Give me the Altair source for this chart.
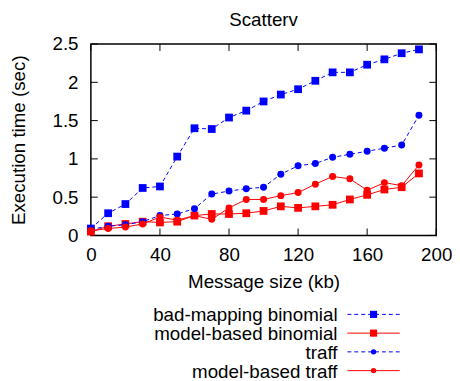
import altair as alt
import pandas as pd

# ---------------- data ----------------
sizes_kb = [0, 10, 20, 30, 40, 50, 60, 70, 80, 90, 100, 110, 120, 130, 140, 150, 160, 170, 180, 190]
series_names = ["bad-mapping binomial", "model-based binomial", "traff", "model-based traff"]
bad_mapping_binomial = [0.09, 0.29, 0.41, 0.62, 0.64, 1.03, 1.40, 1.39, 1.54, 1.63,
                        1.75, 1.84, 1.91, 2.02, 2.13, 2.13, 2.23, 2.30, 2.38, 2.43]
model_based_binomial = [0.05, 0.12, 0.15, 0.18, 0.17, 0.18, 0.26, 0.28, 0.28, 0.29,
                        0.32, 0.38, 0.36, 0.38, 0.40, 0.47, 0.53, 0.60, 0.63, 0.81]
traff = [0.08, 0.12, 0.14, 0.18, 0.26, 0.28, 0.35, 0.54, 0.58, 0.61,
         0.63, 0.80, 0.91, 0.94, 1.02, 1.06, 1.10, 1.14, 1.18, 1.57]
model_based_traff = [0.06, 0.09, 0.11, 0.15, 0.24, 0.20, 0.26, 0.21, 0.36, 0.47,
                     0.47, 0.52, 0.56, 0.67, 0.77, 0.74, 0.59, 0.69, 0.65, 0.92]
x_ticks = [0, 40, 80, 120, 160, 200]
y_ticks = [0, 0.5, 1, 1.5, 2, 2.5]

series_values = [bad_mapping_binomial, model_based_binomial, traff, model_based_traff]
rows = []
for name, vals in zip(series_names, series_values):
    for x, v in zip(sizes_kb, vals):
        rows.append({"series": name, "x": x, "value": v})
df = pd.DataFrame(rows)

# ---------------- styling ----------------
W, H = 350, 194
FONT = "Liberation Sans"
FS = 19
BLUE = "#0000ff"
RED = "#ff0000"
styles = {
    "bad-mapping binomial": dict(color=BLUE, dash=[4, 3], shape="square", size=62, lsize=52),
    "model-based binomial": dict(color=RED, dash=None, shape="square", size=62, lsize=52),
    "traff": dict(color=BLUE, dash=[4, 3], shape="circle", size=50, lsize=30),
    "model-based traff": dict(color=RED, dash=None, shape="circle", size=50, lsize=30),
}

xs = alt.Scale(domain=[0, 200], nice=False, zero=False)
ys = alt.Scale(domain=[0, 2.5], nice=False)
xaxis = alt.Axis(values=x_ticks, grid=False, domain=False, ticks=False, labelPadding=25,
                 labelBaseline="alphabetic", labelFlush=False, labelOverlap=False,
                 title="Message size (kb)", titleX=W / 2, titleY=53,
                 titleBaseline="alphabetic", titleAlign="center")
yaxis = alt.Axis(values=y_ticks, format="~g", grid=False, domain=False, ticks=False,
                 labelPadding=13, labelFlush=False, labelOverlap=False,
                 title="Execution time (sec)", titleX=-67, titleY=H / 2, titleAngle=270,
                 titleBaseline="alphabetic", titleAlign="center")
X = alt.X("x:Q", scale=xs, axis=xaxis)
Y = alt.Y("value:Q", scale=ys, axis=yaxis)

TL = 7
xt = pd.DataFrame({"x": x_ticks})
yt = pd.DataFrame({"value": y_ticks})
tick_layers = [
    alt.Chart(xt).mark_rule(color="black", strokeWidth=1).encode(x=X, y=alt.value(H), y2=alt.value(H - TL)),
    alt.Chart(xt).mark_rule(color="black", strokeWidth=1).encode(x=X, y=alt.value(0), y2=alt.value(TL)),
    alt.Chart(yt).mark_rule(color="black", strokeWidth=1).encode(y=Y, x=alt.value(0), x2=alt.value(TL)),
    alt.Chart(yt).mark_rule(color="black", strokeWidth=1).encode(y=Y, x=alt.value(W), x2=alt.value(W - TL)),
]

series_layers = []
for name in series_names:
    st = styles[name]
    base = alt.Chart(df).transform_filter(alt.datum.series == name)
    line_kw = dict(color=st["color"], strokeWidth=1)
    if st["dash"]:
        line_kw["strokeDash"] = st["dash"]
    series_layers.append(base.mark_line(**line_kw).encode(x=X, y=Y))
    series_layers.append(base.mark_point(shape=st["shape"], size=st["size"], filled=True,
                                         color=st["color"], opacity=1, strokeWidth=0).encode(x=X, y=Y))

main = alt.layer(*tick_layers, *series_layers)

# ---------------- legend ----------------
leg_df = pd.DataFrame({"series": series_names})
LY = alt.Y("series:N", scale=alt.Scale(type="point", domain=series_names, range=[274, 331], padding=0),
           axis=None)
legend_layers = []
for name in series_names:
    st = styles[name]
    base = alt.Chart(leg_df).transform_filter(alt.datum.series == name)
    rule_kw = dict(color=st["color"], strokeWidth=1)
    if st["dash"]:
        rule_kw["strokeDash"] = st["dash"]
    legend_layers.append(base.mark_rule(**rule_kw).encode(x=alt.value(260), x2=alt.value(313), y=LY))
    legend_layers.append(base.mark_point(shape=st["shape"], size=st["lsize"], filled=True,
                                         color=st["color"], opacity=1, strokeWidth=0)
                         .encode(x=alt.value(286.5), y=LY))
    legend_layers.append(base.mark_text(align="right", baseline="middle", font=FONT, fontSize=FS,
                                        color="black", dy=1)
                         .encode(x=alt.value(250), y=LY, text="series:N"))
legend = alt.layer(*legend_layers)

chart = (
    alt.layer(main, legend)
    .resolve_scale(y="independent")
    .properties(
        width=W, height=H,
        title=alt.TitleParams("Scatterv", font=FONT, fontSize=FS, fontWeight="normal", color="black",
                              offset=0, dy=10, frame="group", baseline="alphabetic"),
        autosize=alt.AutoSizeParams(type="none"),
        padding={"left": 84, "top": 34, "right": 16, "bottom": 145},
    )
    .configure_view(stroke="black", strokeWidth=1.5)
    .configure_axis(labelFont=FONT, labelFontSize=FS, titleFont=FONT, titleFontSize=FS,
                    labelColor="black", titleColor="black", titleFontWeight="normal")
)

chart.save("out.html", embed_options={"renderer": "svg", "actions": False})
